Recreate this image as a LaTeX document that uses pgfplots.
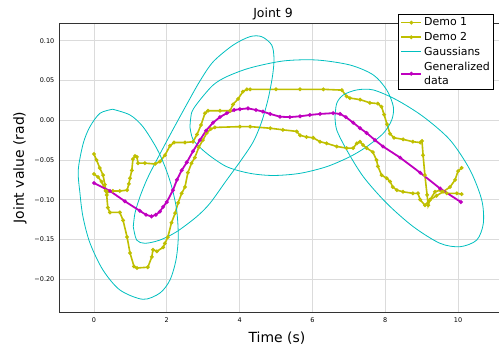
\documentclass[border=0pt]{standalone}
\usepackage{fontspec}
\setmainfont{DejaVu Sans}
\usepackage{pgfplots}
\pgfplotsset{compat=1.18}
\definecolor{myy}{HTML}{BFBF00}
\definecolor{myc}{HTML}{00BFBF}
\definecolor{mym}{HTML}{BF00BF}
\begin{document}
\begin{tikzpicture}
\begin{axis}[
  at={(0,0)}, anchor=south west,
  scale only axis, width=450bp, height=289bp,
  xmin=-0.96, xmax=11.40, ymin=-0.2414, ymax=0.1225,
  xtick={0,2,4,6,8,10}, xticklabels={0,2,4,6,8,10},
  ytick={-0.2,-0.15,-0.1,-0.05,0,0.05,0.1},
  yticklabels={−0.20,−0.15,−0.10,−0.05,0.00,0.05,0.10},
  tick label style={font=\fontsize{6.5}{7}\selectfont},
  yticklabel style={inner sep=0pt, xshift=-4.5bp},
  xticklabel style={inner sep=0pt, yshift=-5.5bp},
  major tick length=0pt,
  grid=major, grid style={line width=0.8bp, color=black!14},
  axis line style={line width=0.8bp, color=black!80},
  title={Joint 9},
  title style={at={(axis description cs:0.4756,1)}, anchor=base, yshift=-0.5bp, font=\fontsize{12.5}{14}\selectfont},
  xlabel={Time (s)},
  xlabel style={at={(axis description cs:0.4844,-0.090)}, anchor=center, font=\fontsize{14}{16}\selectfont},
  ylabel={Joint value (rad)},
  ylabel style={at={(axis description cs:-0.0867,0.5)}, anchor=center, font=\fontsize{14}{16}\selectfont},
  legend style={at={(axis description cs:0.7533,1.0311)}, anchor=north west,
    font=\fontsize{11}{14}\selectfont, draw=black, line width=0.8bp,
    cells={align=left}, row sep=1bp, inner xsep=2bp, inner ysep=1.5bp},
  legend cell align=left,
  legend image code/.code={\draw[mark repeat=2, mark phase=2, #1] plot coordinates {(0bp,0bp) (10bp,0bp) (20bp,0bp)};},
]
% Demo 1
\addplot[color=myy, line width=1.6bp, mark=*, mark size=1bp] coordinates {
(0,-0.0676) (0.11,-0.0714) (0.21,-0.0773) (0.32,-0.089) (0.38,-0.090) (0.52,-0.089) (0.71,-0.089) (0.91,-0.088) (0.96,-0.080) (0.99,-0.073) (1.04,-0.063) (1.07,-0.049) (1.13,-0.045) (1.18,-0.046) (1.21,-0.054) (1.40,-0.054) (1.68,-0.055) (1.81,-0.052) (1.95,-0.044) (2.09,-0.032) (2.20,-0.028) (2.50,-0.028) (2.72,-0.027) (2.83,-0.018) (2.94,-0.006) (3.05,0.009) (3.13,0.012) (3.46,0.012) (3.74,0.012) (3.82,0.020) (3.96,0.027) (4.09,0.036) (4.20,0.039) (4.29,0.039) (5.00,0.039) (5.66,0.039) (6.30,0.039) (6.81,0.038) (6.94,0.030) (7.03,0.028) (7.31,0.026) (7.58,0.022) (7.80,0.021) (7.90,0.017) (7.97,0.007) (8.05,-0.005) (8.13,-0.017) (8.24,-0.022) (8.49,-0.024) (8.76,-0.027) (8.96,-0.028) (9.01,-0.026) (9.04,-0.044) (9.09,-0.069) (9.15,-0.094) (9.18,-0.107) (9.23,-0.100) (9.41,-0.095) (9.59,-0.090) (9.78,-0.084) (9.92,-0.075) (10.0,-0.064) (10.1,-0.060)
};
\addlegendentry{Demo 1}
% Demo 2
\addplot[color=myy, line width=1.6bp, mark=*, mark size=1bp] coordinates {
(0,-0.0425) (0.07,-0.050) (0.16,-0.060) (0.25,-0.069) (0.30,-0.081) (0.35,-0.094) (0.38,-0.110) (0.44,-0.116) (0.71,-0.116) (0.80,-0.126) (0.91,-0.147) (0.99,-0.167) (1.10,-0.184) (1.18,-0.186) (1.48,-0.185) (1.59,-0.172) (1.62,-0.163) (1.73,-0.165) (1.90,-0.160) (1.95,-0.155) (2.03,-0.147) (2.13,-0.129) (2.23,-0.117) (2.31,-0.104) (2.41,-0.092) (2.50,-0.084) (2.58,-0.066) (2.68,-0.054) (2.77,-0.047) (2.88,-0.034) (2.99,-0.025) (3.10,-0.016) (3.21,-0.011) (3.32,-0.009) (4.01,-0.008) (4.29,-0.008) (4.84,-0.010) (5.19,-0.012) (5.57,-0.014) (5.66,-0.019) (5.84,-0.021) (6.02,-0.022) (6.21,-0.027) (6.39,-0.029) (6.67,-0.033) (6.94,-0.035) (7.12,-0.035) (7.22,-0.029) (7.31,-0.027) (7.39,-0.031) (7.49,-0.035) (7.66,-0.040) (7.76,-0.050) (7.80,-0.058) (7.90,-0.069) (8.04,-0.073) (8.13,-0.077) (8.21,-0.084) (8.32,-0.088) (8.49,-0.090) (8.76,-0.092) (8.90,-0.092) (8.96,-0.100) (9.09,-0.107) (9.23,-0.100) (9.37,-0.090) (9.51,-0.088) (9.69,-0.092) (9.97,-0.092) (10.1,-0.093)
};
\addlegendentry{Demo 2}
% Gaussians
\addplot[color=myc, line width=0.8bp, smooth] coordinates {
(0.514,0.0139) (0.989,0.0067) (1.346,-0.0081) (1.723,-0.0353) (1.951,-0.0584) (2.135,-0.0836) (2.272,-0.1130) (2.316,-0.1466) (2.253,-0.1759) (2.088,-0.2011) (1.813,-0.2175) (1.346,-0.2254) (0.714,-0.2137) (0.247,-0.1885) (-0.110,-0.1545) (-0.302,-0.1214) (-0.385,-0.0916) (-0.431,-0.0626) (-0.294,-0.0290) (-0.110,-0.0081) (0.165,0.0088) (0.514,0.0139)
};
\addlegendentry{Gaussians}
\addplot[color=myc, line width=0.8bp, smooth, forget plot] coordinates {
(1.080,-0.1340) (1.126,-0.1171) (1.264,-0.0962) (1.448,-0.0752) (1.629,-0.0584) (2.088,-0.0186) (2.547,0.0199) (2.912,0.0495) (3.277,0.0738) (3.827,0.0948) (4.286,0.1053) (4.607,0.1053) (4.882,0.0948) (4.945,0.0781) (4.909,0.0571) (4.788,0.0277) (4.607,-0.0018) (4.376,-0.0270) (4.038,-0.0505) (3.626,-0.0765) (3.187,-0.1045) (2.821,-0.1214) (2.272,-0.1403) (1.813,-0.1508) (1.401,-0.1549) (1.173,-0.1508) (1.080,-0.1340)
};
\addplot[color=myc, line width=0.8bp, smooth, forget plot] coordinates {
(2.637,-0.0081) (2.69,0.0105) (2.912,0.0256) (3.277,0.0445) (3.645,0.0549) (4.286,0.0659) (5.201,0.0747) (6.118,0.0759) (7.033,0.0696) (7.673,0.0571) (8.041,0.0382) (8.223,0.0171) (8.179,0.0004) (7.948,-0.0164) (7.492,-0.0332) (7.033,-0.0458) (6.393,-0.0584) (5.659,-0.0668) (4.926,-0.0695) (4.286,-0.0668) (3.645,-0.0584) (3.096,-0.0416) (2.728,-0.0248) (2.637,-0.0081)
};
\addplot[color=myc, line width=0.8bp, smooth, forget plot] coordinates {
(6.621,0.0045) (6.668,0.0214) (6.849,0.0319) (7.217,0.0382) (7.673,0.0382) (8.316,0.0256) (9.047,0.0045) (9.780,-0.0248) (10.330,-0.0626) (10.651,-0.1004) (10.695,-0.1297) (10.514,-0.1508) (10.055,-0.1592) (9.505,-0.1549) (8.772,-0.1340) (8.041,-0.1045) (7.398,-0.0710) (6.942,-0.0374) (6.668,-0.0122) (6.621,0.0045)
};
% Generalized data
\addplot[color=mym, line width=1.8bp, mark=*, mark size=0.9bp] coordinates {
(0,-0.079) (0.44,-0.089) (0.85,-0.102) (1.26,-0.114) (1.43,-0.119) (1.58,-0.121) (1.70,-0.119) (1.81,-0.115) (1.90,-0.109) (2.00,-0.103) (2.17,-0.088) (2.28,-0.075) (2.41,-0.063) (2.55,-0.053) (2.72,-0.039) (2.91,-0.025) (3.08,-0.013) (3.27,-0.003) (3.46,0.004) (3.65,0.009) (3.85,0.013) (4.01,0.014) (4.23,0.015) (4.45,0.013) (4.64,0.011) (4.84,0.008) (5.11,0.0045) (5.38,0.004) (5.66,0.005) (5.93,0.0067) (6.21,0.008) (6.57,0.009) (6.76,0.008) (6.92,0.004) (7.12,-0.003) (7.31,-0.010) (7.49,-0.016) (7.72,-0.025) (7.94,-0.033) (8.41,-0.047) (8.96,-0.066) (9.51,-0.086) (10.08,-0.103)
};
\addlegendentry{Generalized\\data}
\end{axis}
\pgfresetboundingbox
\path (-59bp,-37bp) rectangle (440bp,312bp);
\end{tikzpicture}
\end{document}
